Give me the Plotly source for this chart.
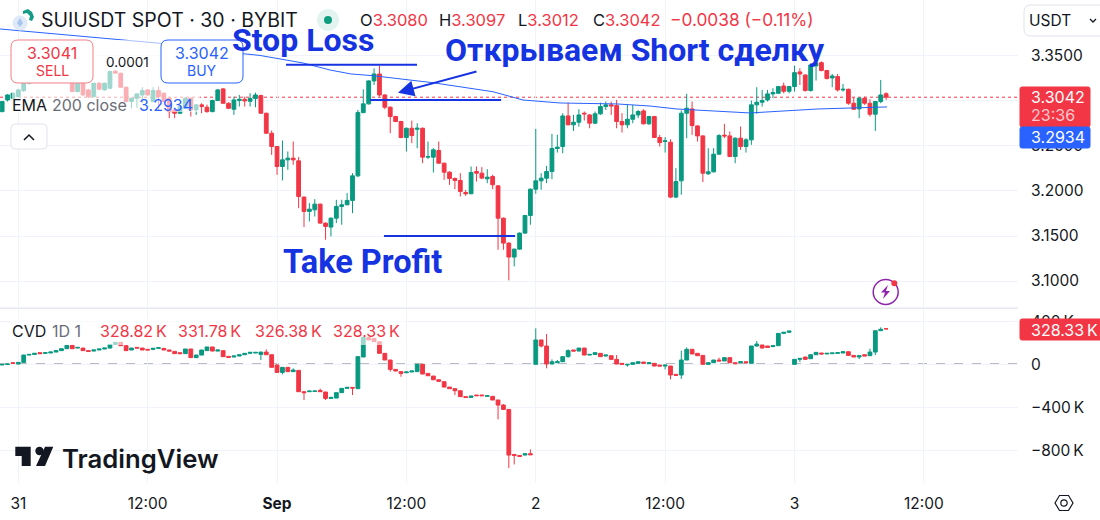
import pandas as pd
import plotly.graph_objects as go

W, H = 1100, 520
PLOT_RIGHT = 1018

# 30 minute candles
candle_times = pd.date_range("2025-08-30 22:30", periods=165, freq="30min")

price_open = [
    3.2882, 3.3012, 3.3030, 3.3049, 3.3116, 3.3197, 3.3240, 3.3255, 3.3245, 3.3265,
    3.3285, 3.3275, 3.3260, 3.3235, 3.3105, 3.3205, 3.3123, 3.3049, 3.3197, 3.3123,
    3.3142, 3.3330, 3.3308, 3.3153, 3.2994, 3.3030, 3.3067, 3.3123, 3.2994, 3.3116,
    3.3086, 3.3030, 3.2901, 3.2864, 3.2919, 3.3030, 3.2901, 3.2957, 3.2931, 3.2882,
    3.3005, 3.3134, 3.2975, 3.2908, 3.3005, 3.3019, 3.2997, 3.3027, 3.3060, 3.2864,
    3.2642, 3.2494, 3.2272, 3.2346, 3.2365, 3.2335, 3.1932, 3.1773, 3.1791, 3.1854,
    3.1643, 3.1599, 3.1698, 3.1828, 3.1847, 3.1895, 3.2168, 3.2871, 3.2968, 3.3223,
    3.3300, 3.3067, 3.2931, 3.2827, 3.2772, 3.2594, 3.2697, 3.2686, 3.2697, 3.2376,
    3.2376, 3.2450, 3.2309, 3.2209, 3.2139, 3.2117, 3.1983, 3.1969, 3.2217, 3.2198,
    3.2135, 3.2161, 3.2057, 3.1698, 3.1421, 3.1266, 3.1354, 3.1532, 3.1728, 3.2020,
    3.2113, 3.2142, 3.2217, 3.2472, 3.2494, 3.2834, 3.2735, 3.2764, 3.2864, 3.2845,
    3.2753, 3.2857, 3.2938, 3.2957, 3.2949, 3.2772, 3.2735, 3.2797, 3.2845, 3.2890,
    3.2746, 3.2827, 3.2594, 3.2550, 3.2542, 3.1932, 3.2113, 3.2864, 3.2912, 3.2723,
    3.2612, 3.2191, 3.2213, 3.2409, 3.2620, 3.2612, 3.2383, 3.2587, 3.2494, 3.2568,
    3.2957, 3.2986, 3.3012, 3.3079, 3.3086, 3.3167, 3.3108, 3.3160, 3.3323, 3.3289,
    3.3116, 3.3390, 3.3426, 3.3338, 3.3256, 3.3271, 3.3123, 3.3130, 3.2975, 3.2912,
    3.3031, 3.2975, 3.2853, 3.2994, 3.3080,
]
price_high = [
    3.2994, 3.3075, 3.3095, 3.3135, 3.3210, 3.3260, 3.3275, 3.3290, 3.3280, 3.3300,
    3.3310, 3.3300, 3.3285, 3.3260, 3.3230, 3.3215, 3.3135, 3.3200, 3.3210, 3.3205,
    3.3335, 3.3345, 3.3315, 3.3160, 3.3035, 3.3085, 3.3153, 3.3130, 3.3153, 3.3160,
    3.3095, 3.3035, 3.2910, 3.2950, 3.3040, 3.3040, 3.2965, 3.2975, 3.2960, 3.3015,
    3.3135, 3.3145, 3.2985, 3.3049, 3.3067, 3.3049, 3.3086, 3.3093, 3.3070, 3.2870,
    3.2672, 3.2500, 3.2561, 3.2439, 3.2550, 3.2376, 3.1940, 3.1865, 3.1909, 3.1860,
    3.1650, 3.1705, 3.1902, 3.1902, 3.1976, 3.2198, 3.2901, 3.3130, 3.3230, 3.3363,
    3.3389, 3.3075, 3.2940, 3.2835, 3.2780, 3.2705, 3.2783, 3.2753, 3.2705, 3.2550,
    3.2476, 3.2550, 3.2315, 3.2220, 3.2150, 3.2198, 3.2013, 3.2272, 3.2272, 3.2265,
    3.2242, 3.2180, 3.2065, 3.1705, 3.1430, 3.1360, 3.1540, 3.1735, 3.2028, 3.2690,
    3.2198, 3.2279, 3.2635, 3.2624, 3.2864, 3.2982, 3.2845, 3.2908, 3.2883, 3.2855,
    3.2883, 3.2982, 3.2994, 3.2994, 3.3012, 3.2864, 3.2957, 3.2957, 3.2901, 3.2908,
    3.2835, 3.2835, 3.2624, 3.2598, 3.2575, 3.2254, 3.2894, 3.3079, 3.2994, 3.2730,
    3.2620, 3.2475, 3.2476, 3.2631, 3.2746, 3.2661, 3.2595, 3.2716, 3.2587, 3.3005,
    3.3153, 3.3123, 3.3123, 3.3142, 3.3167, 3.3204, 3.3167, 3.3393, 3.3363, 3.3295,
    3.3412, 3.3430, 3.3440, 3.3345, 3.3300, 3.3300, 3.3190, 3.3138, 3.3042, 3.3042,
    3.3049, 3.3019, 3.3000, 3.3234, 3.3097,
]
price_low = [
    3.2875, 3.2994, 3.3020, 3.3040, 3.3100, 3.3180, 3.3225, 3.3230, 3.3225, 3.3250,
    3.3265, 3.3245, 3.3220, 3.3100, 3.3095, 3.3060, 3.3030, 3.3040, 3.3120, 3.3115,
    3.3135, 3.3300, 3.3150, 3.2985, 3.2919, 3.2925, 3.2975, 3.3060, 3.2985, 3.2901,
    3.2985, 3.2809, 3.2809, 3.2855, 3.2910, 3.2827, 3.2845, 3.2864, 3.2870, 3.2875,
    3.3000, 3.2970, 3.2910, 3.2845, 3.2938, 3.2938, 3.2938, 3.2931, 3.2860, 3.2635,
    3.2401, 3.2180, 3.2117, 3.2235, 3.2291, 3.1809, 3.1599, 3.1662, 3.1717, 3.1636,
    3.1458, 3.1495, 3.1643, 3.1625, 3.1840, 3.1754, 3.2154, 3.2864, 3.2960, 3.3178,
    3.3049, 3.2908, 3.2642, 3.2765, 3.2587, 3.2439, 3.2531, 3.2475, 3.2309, 3.2354,
    3.2205, 3.2305, 3.2124, 3.2068, 3.2020, 3.1939, 3.1946, 3.1965, 3.2105, 3.2131,
    3.2087, 3.2020, 3.1347, 3.1347, 3.1007, 3.1162, 3.1347, 3.1525, 3.1625, 3.1969,
    3.2013, 3.2087, 3.2131, 3.2427, 3.2420, 3.2730, 3.2668, 3.2716, 3.2783, 3.2697,
    3.2750, 3.2845, 3.2901, 3.2845, 3.2697, 3.2649, 3.2697, 3.2753, 3.2809, 3.2740,
    3.2735, 3.2590, 3.2494, 3.2427, 3.1920, 3.1920, 3.1958, 3.2587, 3.2624, 3.2550,
    3.2098, 3.2180, 3.2205, 3.2402, 3.2587, 3.2376, 3.2309, 3.2457, 3.2427, 3.2513,
    3.2857, 3.2938, 3.2994, 3.3030, 3.3079, 3.3086, 3.3086, 3.3105, 3.3178, 3.3105,
    3.3105, 3.3227, 3.3330, 3.3240, 3.3153, 3.3105, 3.3105, 3.2957, 3.2901, 3.2809,
    3.2957, 3.2827, 3.2668, 3.2975, 3.3012,
]
price_close = [
    3.2994, 3.3067, 3.3086, 3.3123, 3.3197, 3.3240, 3.3255, 3.3245, 3.3265, 3.3285,
    3.3275, 3.3260, 3.3235, 3.3105, 3.3197, 3.3067, 3.3049, 3.3197, 3.3131, 3.3197,
    3.3327, 3.3310, 3.3153, 3.2994, 3.3030, 3.3079, 3.3116, 3.3067, 3.3116, 3.3049,
    3.2994, 3.2882, 3.2864, 3.2938, 3.3030, 3.2901, 3.2957, 3.2938, 3.2882, 3.3005,
    3.3123, 3.2975, 3.2919, 3.3012, 3.3019, 3.3001, 3.3027, 3.3067, 3.2864, 3.2642,
    3.2494, 3.2272, 3.2346, 3.2365, 3.2346, 3.1939, 3.1773, 3.1798, 3.1854, 3.1643,
    3.1606, 3.1698, 3.1828, 3.1847, 3.1895, 3.2168, 3.2871, 3.2968, 3.3223, 3.3300,
    3.3067, 3.2931, 3.2827, 3.2772, 3.2594, 3.2697, 3.2616, 3.2697, 3.2376, 3.2383,
    3.2457, 3.2309, 3.2209, 3.2139, 3.2117, 3.1995, 3.1969, 3.2205, 3.2198, 3.2143,
    3.2154, 3.2069, 3.1698, 3.1421, 3.1266, 3.1354, 3.1532, 3.1728, 3.2020, 3.2113,
    3.2142, 3.2217, 3.2472, 3.2487, 3.2834, 3.2735, 3.2764, 3.2845, 3.2857, 3.2753,
    3.2857, 3.2938, 3.2957, 3.2945, 3.2772, 3.2735, 3.2797, 3.2845, 3.2883, 3.2746,
    3.2827, 3.2594, 3.2538, 3.2557, 3.1932, 3.2105, 3.2864, 3.2920, 3.2727, 3.2612,
    3.2198, 3.2213, 3.2409, 3.2616, 3.2612, 3.2383, 3.2587, 3.2494, 3.2568, 3.2957,
    3.2986, 3.3005, 3.3079, 3.3093, 3.3160, 3.3108, 3.3160, 3.3315, 3.3300, 3.3116,
    3.3400, 3.3420, 3.3338, 3.3249, 3.3278, 3.3123, 3.3130, 3.2975, 3.2908, 3.3031,
    3.2975, 3.2853, 3.2994, 3.3067, 3.3042,
]

# CVD pane, in thousands
cvd_open = [
    -7, -2, 14, 2, 17, 85, 91, 107, 101, 104,
    113, 126, 144, 175, 150, 150, 126, 122, 132, 141,
    150, 184, 203, 172, 132, 156, 150, 138, 138, 147,
    147, 132, 119, 107, 98, 141, 61, 85, 126, 160,
    122, 126, 73, 67, 76, 88, 101, 104, 91, 113,
    88, -8, -76, -29, -69, -57, -255, -255, -252, -243,
    -258, -317, -314, -264, -224, -215, -227, 67, 249, 240,
    209, 101, 39, -48, -69, -79, -72, -69, -1, -85,
    -110, -144, -162, -212, -227, -246, -301, -308, -286, -286,
    -298, -298, -332, -379, -419, -837, -846, -843, -830, -1,
    225, 169, 2, 14, 23, 70, 132, 122, 150, 85,
    91, 101, 76, 79, 45, 8, -7, -1, 8, 20,
    5, 8, -8, -17, -17, -94, -100, 39, 138, 101,
    82, -1, 14, 39, 30, 61, 14, 14, 23, 8,
    169, 178, 169, 163, 172, 286, 296, -1, 45, 67,
    51, 88, 104, 95, 98, 101, 104, 116, 82, 67,
    88, 79, 113, 311, 328.82,
]
cvd_high = [
    0, 2, 16, 19, 87, 92, 102, 108, 108, 114,
    127, 146, 177, 177, 157, 151, 127, 133, 142, 151,
    186, 205, 205, 174, 151, 158, 151, 139, 148, 154,
    148, 133, 120, 108, 142, 142, 86, 133, 161, 161,
    133, 127, 74, 77, 89, 102, 111, 111, 114, 138,
    89, 2, -27, -27, -38, -55, -253, -248, -248, -227,
    -256, -307, -263, -223, -214, -214, 71, 251, 251, 241,
    210, 102, 40, -47, -68, -71, -62, 1, 0, -84,
    -109, -143, -161, -211, -226, -245, -300, -294, -285, -285,
    -291, -297, -331, -369, -418, -836, -845, -829, -790, 333,
    226, 280, 45, 39, 71, 138, 133, 151, 151, 92,
    108, 102, 86, 80, 85, 9, 0, 15, 24, 21,
    15, 9, -7, -7, -16, -93, 126, 156, 139, 102,
    83, 15, 40, 61, 62, 62, 15, 24, 24, 170,
    215, 179, 170, 173, 287, 297, 309, 46, 55, 68,
    89, 111, 105, 102, 105, 108, 117, 117, 83, 80,
    89, 144, 312, 342, 331.78,
]
cvd_low = [
    -9, -3, 7, 0, 15, 84, 90, 97, 100, 103,
    112, 125, 143, 143, 149, 125, 118, 121, 131, 140,
    149, 183, 171, 125, 131, 149, 131, 131, 130, 146,
    131, 121, 97, 97, 97, 60, 60, 84, 125, 121,
    121, 69, 63, 66, 75, 87, 100, 103, 39, 87,
    -30, -78, -94, -71, -70, -257, -332, -256, -253, -256,
    -332, -318, -315, -265, -225, -286, -228, 66, 224, 208,
    100, 38, -69, -64, -116, -80, -73, -70, -92, -108,
    -145, -160, -213, -228, -286, -302, -309, -309, -293, -293,
    -299, -333, -512, -420, -964, -930, -856, -844, -841, -2,
    156, -38, 1, 13, 22, 61, 121, 121, 84, 84,
    90, 69, 75, 44, 1, -2, -23, -2, 7, 7,
    4, -18, -18, -48, -141, -104, -137, 38, 94, 78,
    -2, -2, 13, 29, 29, 13, 4, 13, 13, 7,
    163, 149, 155, 162, 171, 285, 295, -2, 21, 39,
    50, 87, 94, 94, 97, 100, 103, 81, 66, 48,
    75, 78, 85, 310, 326.38,
]
cvd_close = [
    -2, 1, 8, 17, 85, 91, 101, 98, 107, 113,
    126, 144, 175, 144, 156, 126, 119, 132, 141, 150,
    184, 203, 172, 126, 150, 150, 132, 132, 147, 153,
    132, 122, 98, 98, 141, 61, 85, 132, 160, 122,
    132, 70, 64, 76, 88, 101, 110, 110, 113, 88,
    -29, -76, -29, -69, -54, -255, -264, -249, -249, -255,
    -317, -308, -264, -224, -215, -221, 70, 249, 225, 209,
    101, 39, -48, -63, -85, -72, -63, -1, -91, -107,
    -144, -159, -212, -227, -246, -301, -308, -295, -292, -292,
    -292, -332, -379, -419, -843, -846, -855, -830, -840, 225,
    169, 2, 23, 23, 70, 126, 122, 150, 85, 91,
    107, 70, 85, 45, 2, -1, -1, 14, 23, 8,
    14, -17, -17, -8, -100, -103, 39, 138, 95, 79,
    -1, 14, 39, 30, 61, 14, 5, 23, 14, 169,
    187, 150, 156, 172, 286, 296, 308, 45, 54, 45,
    88, 110, 95, 101, 104, 107, 116, 82, 67, 79,
    76, 113, 311, 324, 328.33,
]

ema_times = [
    "2025-08-30 22:18", "2025-08-31 05:43", "2025-08-31 13:09", "2025-08-31 19:55",
    "2025-08-31 22:25", "2025-09-01 02:25", "2025-09-01 04:55", "2025-09-01 06:52",
    "2025-09-01 08:54", "2025-09-01 14:28", "2025-09-01 20:02", "2025-09-01 22:49",
    "2025-09-02 02:15", "2025-09-02 07:32", "2025-09-02 10:36", "2025-09-02 13:06",
    "2025-09-02 16:10", "2025-09-02 19:53", "2025-09-03 02:06", "2025-09-03 05:09",
    "2025-09-03 08:35",
]
ema_values = [
    3.3800, 3.3719, 3.3641, 3.3537, 3.3506, 3.3422, 3.3344, 3.3300, 3.3281, 3.3203, 3.3103,
    3.3011, 3.2978, 3.2967, 3.2944, 3.2911, 3.2889, 3.2867, 3.2911, 3.2922, 3.2934,
]

# hand drawn trade levels
stop_times = ["2025-09-01 00:50", "2025-09-01 12:59"]
stop_prices = [3.3403, 3.3403]
entry_times = ["2025-09-01 08:38", "2025-09-01 20:47"]
entry_prices = [3.3011, 3.3011]
profit_times = ["2025-09-01 09:55", "2025-09-01 22:05"]
profit_prices = [3.1500, 3.1500]

last_price = 3.3042
price_ticks = [3.35, 3.30, 3.25, 3.20, 3.15, 3.10]
price_tick_labels = ["3.3500", "3.3000", "3.2500", "3.2000", "3.1500", "3.1000"]
cvd_ticks = [400, 0, -400, -800]
cvd_tick_labels = ["400\u2009K", "0", "−400\u2009K", "−800\u2009K"]
time_ticks = ["2025-08-31 00:00", "2025-08-31 12:00", "2025-09-01 00:00", "2025-09-01 12:00",
              "2025-09-02 00:00", "2025-09-02 12:00", "2025-09-03 00:00", "2025-09-03 12:00"]
time_tick_labels = ["31", "12:00", "<b>Sep</b>", "12:00", "2", "12:00", "3", "12:00"]

GREEN = "#089981"
RED = "#f23645"
BLUE = "#2962ff"
INK = "#131722"
GREY = "#6a6d78"
GRID = "#f0f3fa"
DRAW_BLUE = "#1533e0"
FONT = "Inter"
x_range = ["2025-08-30 22:18", "2025-09-03 20:44"]


def px(x):
    return x / W


def py(y):
    return 1 - y / H


def box(x0, y0, x1, y1, r, line, fill, width=1):
    # rounded rectangle, page pixels
    a, b, c, d = px(x0), py(y0), px(x1), py(y1)
    rx, ry = r / W, r / H
    path = (f"M{a + rx},{b} L{c - rx},{b} Q{c},{b} {c},{b - ry} L{c},{d + ry} Q{c},{d} {c - rx},{d} "
            f"L{a + rx},{d} Q{a},{d} {a},{d + ry} L{a},{b - ry} Q{a},{b} {a + rx},{b} Z")
    return dict(type="path", xref="paper", yref="paper", path=path, fillcolor=fill,
                line=dict(color=line, width=width), layer="above")


def poly(points, fill=None, line=None, width=1, close=True):
    path = "M" + " L".join(f"{px(x)},{py(y)}" for x, y in points) + (" Z" if close else "")
    return dict(type="path", xref="paper", yref="paper", path=path, fillcolor=fill or "rgba(0,0,0,0)",
                line=dict(color=line or "rgba(0,0,0,0)", width=width), layer="above")


def circle(cx, cy, r, fill=None, line=None, width=1):
    return dict(type="circle", xref="paper", yref="paper", x0=px(cx - r), x1=px(cx + r), y0=py(cy + r), y1=py(cy - r),
                fillcolor=fill or "rgba(0,0,0,0)", line=dict(color=line or "rgba(0,0,0,0)", width=width), layer="above")


def rect(x0, y0, x1, y1, fill):
    return dict(type="rect", xref="paper", yref="paper", x0=px(x0), x1=px(x1), y0=py(y1), y1=py(y0),
                fillcolor=fill, line=dict(width=0), layer="above")


def label(x, y, text, size=15, color=INK, anchor="left", font=FONT, weight=None):
    f = dict(family=font, size=size, color=color)
    if weight:
        f["weight"] = weight
    return dict(xref="paper", yref="paper", x=px(x), y=py(y), text=text, showarrow=False, xanchor=anchor,
                yanchor="middle", font=f, borderpad=0, borderwidth=0)


def ohlc(x, letter, value):
    return label(x, 20, f'{letter}<span style="color:{RED}">{value}</span>', size=16.5)


fig = go.Figure()

fig.add_trace(go.Candlestick(
    x=candle_times, open=price_open, high=price_high, low=price_low, close=price_close,
    xaxis="x", yaxis="y",
    increasing=dict(line=dict(color=GREEN, width=1), fillcolor=GREEN),
    decreasing=dict(line=dict(color=RED, width=1), fillcolor=RED),
    showlegend=False,
))
fig.add_trace(go.Candlestick(
    x=candle_times, open=cvd_open, high=cvd_high, low=cvd_low, close=cvd_close,
    xaxis="x2", yaxis="y2",
    increasing=dict(line=dict(color=GREEN, width=1), fillcolor=GREEN),
    decreasing=dict(line=dict(color=RED, width=1), fillcolor=RED),
    showlegend=False,
))
fig.add_trace(go.Scatter(x=ema_times, y=ema_values, mode="lines", line=dict(color=BLUE, width=1), showlegend=False))
for times, prices in [(stop_times, stop_prices), (entry_times, entry_prices), (profit_times, profit_prices)]:
    fig.add_trace(go.Scatter(x=times, y=prices, mode="lines", line=dict(color=DRAW_BLUE, width=2), showlegend=False))

shapes = [
    # last price and zero lines
    dict(type="line", xref="x", yref="y", x0=x_range[0], x1=x_range[1], y0=last_price, y1=last_price,
         line=dict(color=RED, width=1, dash="dot"), layer="below"),
    dict(type="line", xref="x2", yref="y2", x0=x_range[0], x1=x_range[1], y0=0, y1=0,
         line=dict(color="#787b86", width=1.3, dash="dash"), layer="below"),
    # pane separator
    rect(0, 307.5, PLOT_RIGHT, 309, "#e6e8ee"),
    # legend backdrops wash the candles out
    rect(12, 40, 200, 112, "rgba(255,255,255,0.6)"),
    rect(10, 318, 405, 345, "rgba(255,255,255,0.6)"),
    # order buttons
    box(11, 40, 93, 83, 7, "#ef7f89", "white"),
    box(161, 40, 243, 83, 7, "#2962ff", "white"),
    # collapse button
    box(11, 124, 47, 149, 4, "#e0e3eb", "white"),
    poly([(24, 140), (29, 135), (34, 140)], line=INK, width=1.5, close=False),
    # symbol logo
    circle(20, 23, 7.5, fill="#dfe9f8"),
    poly([(20, 18), (17, 23), (20, 27), (23, 23)], fill="#a9c6ee"),
    poly([(23, 11), (28, 9), (32, 12), (34, 17), (32, 21), (29, 20), (30, 16), (27, 13), (23, 14)], fill="#169c86"),
    # market status dot
    circle(328, 20, 11, fill="#e3f4f0"),
    circle(328, 20, 4, fill="#0f9d80"),
    # currency selector
    box(1024, 5, 1110, 36, 7, "#e0e3eb", "white"),
    poly([(1090, 19), (1093, 22), (1096, 19)], line=INK, width=1.3, close=False),
    # price tags
    box(1020, 87, 1090, 127, 2, RED, RED),
    box(1020, 127, 1090, 148, 2, BLUE, BLUE),
    box(1020, 319, 1110, 340, 2, RED, RED),
    # logo
    poly([(15.3, 446.7), (30.7, 446.7), (30.7, 466), (21.7, 466), (21.7, 456), (15.3, 456)], fill=INK),
    circle(39.5, 451, 4.2, fill=INK),
    poly([(45, 446.7), (53.3, 446.7), (45, 466), (36, 466)], fill=INK),
    # lightning badge
    circle(885.7, 292, 12.5, fill="white", line="#8e24aa", width=1.5),
    poly([(888, 285), (881, 292.5), (885, 292.5), (883, 299), (890, 291), (886, 291)], fill="#8e24aa"),
    circle(894.3, 283.3, 3, fill=RED),
    # settings hexagon
    poly([(1055, 503), (1059.5, 495.5), (1068.5, 495.5), (1073, 503), (1068.5, 510.5), (1059.5, 510.5)],
         line=INK, width=1.2),
    circle(1064, 503, 3.2, line=INK, width=1.2),
]

annotations = [
    label(41, 20, "SUIUSDT SPOT · 30 · BYBIT", size=19.5),
    ohlc(360, "O", "3.3080"),
    ohlc(439, "H", "3.3097"),
    ohlc(518, "L", "3.3012"),
    ohlc(593, "C", "3.3042"),
    label(670, 20, "−0.0038 (−0.11%)", size=17.3, color=RED),
    label(52, 53, "3.3041", size=16, color=RED, anchor="center"),
    label(52, 71, "SELL", size=14, color=RED, anchor="center"),
    label(202, 53, "3.3042", size=16, color=BLUE, anchor="center"),
    label(202, 71, "BUY", size=14, color=BLUE, anchor="center"),
    label(127, 62, "0.0001", size=13.5, anchor="center"),
    label(12, 105, "EMA", size=16),
    label(52, 105, "200 close", size=16, color=GREY),
    label(139, 105, "3.2934", size=16, color=BLUE),
    label(12, 331, "CVD", size=16),
    label(52, 331, "1D 1", size=16, color=GREY),
    label(100, 331, "328.82\u2009K", size=16, color=RED),
    label(178, 331, "331.78\u2009K", size=16, color=RED),
    label(255, 331, "326.38\u2009K", size=16, color=RED),
    label(333, 331, "328.33\u2009K", size=16, color=RED),
    label(1029, 21, "USDT", size=15.5),
    label(1031, 97, "3.3042", size=16, color="white"),
    label(1031, 115, "23:36", size=16, color="#ffc9ce"),
    label(1031, 137, "3.2934", size=16, color="white"),
    label(1031, 330, "328.33\u2009K", size=16, color="white"),
    label(62, 458, "TradingView", size=25.7, weight=600),
    label(232, 40, "Stop Loss", size=32, color=DRAW_BLUE, font="Roboto", weight=700),
    label(445, 50, "Открываем Short сделку", size=32, color=DRAW_BLUE, font="Roboto", weight=700),
    label(283, 262, "Take Profit", size=32.5, color=DRAW_BLUE, font="Roboto", weight=700),
    # arrow towards the entry level
    dict(xref="x", yref="y", x="2025-09-01 11:13", y=3.3092, ax=80, ay=-21.7, text="", showarrow=True,
         arrowhead=2, arrowsize=1.6, arrowwidth=2, arrowcolor=DRAW_BLUE),
]

axis_font = dict(family=FONT, size=15.5, color=INK)
fig.update_layout(
    width=W, height=H, autosize=False,
    margin=dict(l=0, r=0, t=0, b=0),
    paper_bgcolor="white", plot_bgcolor="white",
    showlegend=False,
    boxgap=0.3, boxgroupgap=0,
    shapes=shapes, annotations=annotations,
    xaxis=dict(domain=[0, PLOT_RIGHT / W], anchor="y", type="date", range=x_range, rangeslider=dict(visible=False),
               showticklabels=False, tickvals=time_ticks, showgrid=True, gridcolor=GRID, zeroline=False,
               showline=False, ticks=""),
    xaxis2=dict(domain=[0, PLOT_RIGHT / W], anchor="y2", type="date", range=x_range, rangeslider=dict(visible=False),
                tickmode="array", tickvals=time_ticks, ticktext=time_tick_labels, tickfont=axis_font,
                ticklabelstandoff=9, showgrid=True, gridcolor=GRID, zeroline=False, showline=False, ticks=""),
    yaxis=dict(domain=[1 - 308 / H, 1], anchor="x", side="right", range=[3.07, 3.4122], tickmode="array",
               tickvals=price_ticks, ticktext=price_tick_labels, tickfont=axis_font, ticklabelstandoff=12,
               showgrid=True, gridcolor=GRID, zeroline=False, showline=False, ticks=""),
    yaxis2=dict(domain=[1 - 483 / H, 1 - 310 / H], anchor="x2", side="right", range=[-1102, 503], tickmode="array",
                tickvals=cvd_ticks, ticktext=cvd_tick_labels, tickfont=axis_font, ticklabelstandoff=12,
                showgrid=True, gridcolor=GRID, zeroline=False, showline=False, ticks=""),
)

# the page's default body margin would push the chart off the 1100x520 window
fig.write_html("out.html", config=dict(displayModeBar=False), post_script="document.body.style.margin = '0';")
